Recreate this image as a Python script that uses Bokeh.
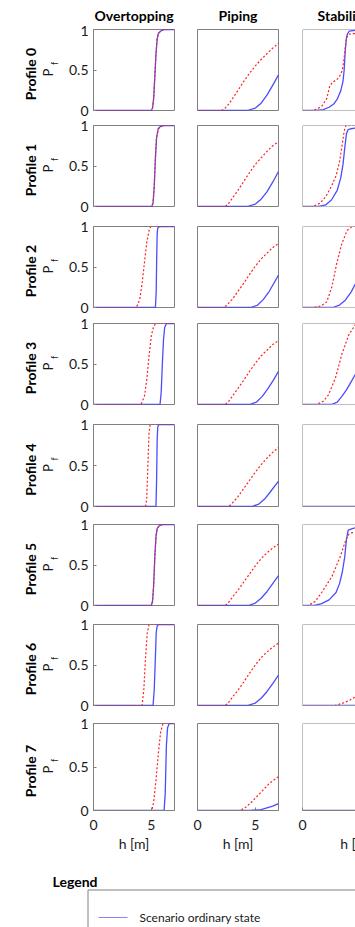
import math
from bokeh.plotting import figure
from bokeh.layouts import column, row
from bokeh.models import Range1d, FixedTicker, Span
from bokeh.core.properties import value
from bokeh.embed import file_html
from bokeh.resources import INLINE

# ---------------- data ----------------
MECHANISMS = ["Overtopping", "Piping", "Stability"]
PROFILES = ["Profile 0", "Profile 1", "Profile 2", "Profile 3",
            "Profile 4", "Profile 5", "Profile 6", "Profile 7"]
SERIES = ["Scenario ordinary state", "Scenario alternative state"]
X_TICKS = [0, 5]
Y_TICKS = [0, 0.5, 1]
Y_TICK_LABELS = ["0", "0.5", "1"]
X_LABEL = "h [m]"
Y_LABEL_MAIN = "P"
Y_LABEL_SUB = "f"
LEGEND_TITLE = "Legend"
X_MAX = 7.0

# (h, Pf) points per profile
overtopping_ordinary = [
    [(0, 0), (5.0, 0), (5.1, 0.03), (5.2, 0.15), (5.3, 0.42), (5.4, 0.7), (5.5, 0.88), (5.6, 0.95), (5.8, 0.98), (6.1, 1.0), (7, 1.0)],
    [(0, 0), (5.05, 0), (5.15, 0.05), (5.25, 0.25), (5.35, 0.6), (5.45, 0.85), (5.6, 0.96), (5.8, 0.99), (6.1, 1.0), (7, 1.0)],
    [(0, 0), (5.35, 0), (5.42, 0.2), (5.46, 0.6), (5.5, 0.9), (5.55, 0.98), (5.7, 1.0), (7, 1.0)],
    [(0, 0), (5.75, 0), (5.85, 0.15), (5.95, 0.5), (6.05, 0.8), (6.15, 0.95), (6.3, 1.0), (7, 1.0)],
    [(0, 0), (5.4, 0), (5.45, 0.3), (5.5, 0.8), (5.55, 0.97), (5.65, 1.0), (7, 1.0)],
    [(0, 0), (5.0, 0), (5.1, 0.05), (5.2, 0.25), (5.3, 0.6), (5.4, 0.85), (5.5, 0.95), (5.7, 0.99), (6.0, 1.0), (7, 1.0)],
    [(0, 0), (5.15, 0), (5.25, 0.2), (5.35, 0.6), (5.42, 0.9), (5.5, 0.98), (5.6, 1.0), (7, 1.0)],
    [(0, 0), (6.1, 0), (6.2, 0.2), (6.3, 0.75), (6.4, 0.95), (6.55, 1.0), (7, 1.0)],
]
overtopping_alternative = [
    [(0, 0), (5.0, 0), (5.1, 0.03), (5.2, 0.15), (5.3, 0.42), (5.4, 0.7), (5.5, 0.88), (5.6, 0.95), (5.8, 0.98), (6.1, 1.0), (7, 1.0)],
    [(0, 0), (5.05, 0), (5.15, 0.05), (5.25, 0.25), (5.35, 0.6), (5.45, 0.85), (5.6, 0.96), (5.8, 0.99), (6.1, 1.0), (7, 1.0)],
    [(0, 0), (3.7, 0), (4.0, 0.1), (4.2, 0.3), (4.4, 0.55), (4.6, 0.8), (4.8, 0.95), (4.95, 1.0), (7, 1.0)],
    [(0, 0), (4.1, 0), (4.4, 0.1), (4.6, 0.3), (4.8, 0.6), (5.0, 0.85), (5.2, 0.97), (5.4, 1.0), (7, 1.0)],
    [(0, 0), (4.5, 0), (4.6, 0.1), (4.7, 0.5), (4.8, 0.9), (4.9, 1.0), (7, 1.0)],
    [(0, 0), (5.0, 0), (5.1, 0.05), (5.2, 0.25), (5.3, 0.6), (5.4, 0.85), (5.5, 0.95), (5.7, 0.99), (6.0, 1.0), (7, 1.0)],
    [(0, 0), (4.2, 0), (4.35, 0.2), (4.5, 0.6), (4.65, 0.9), (4.8, 1.0), (7, 1.0)],
    [(0, 0), (5.05, 0), (5.2, 0.1), (5.4, 0.35), (5.6, 0.65), (5.8, 0.9), (6.0, 1.0), (7, 1.0)],
]
piping_ordinary = [
    [(0, 0), (4.3, 0), (5.0, 0.03), (5.5, 0.09), (6.0, 0.19), (6.5, 0.31), (7, 0.44)],
    [(0, 0), (4.3, 0), (5.0, 0.03), (5.5, 0.09), (6.0, 0.18), (6.5, 0.3), (7, 0.43)],
    [(0, 0), (4.6, 0), (5.2, 0.03), (5.7, 0.1), (6.2, 0.2), (6.6, 0.3), (7, 0.4)],
    [(0, 0), (4.5, 0), (5.1, 0.03), (5.6, 0.1), (6.1, 0.2), (6.6, 0.31), (7, 0.41)],
    [(0, 0), (4.7, 0), (5.3, 0.03), (5.8, 0.09), (6.3, 0.18), (7, 0.31)],
    [(0, 0), (4.4, 0), (5.0, 0.03), (5.5, 0.09), (6.0, 0.17), (6.5, 0.27), (7, 0.37)],
    [(0, 0), (4.3, 0), (5.0, 0.03), (5.5, 0.09), (6.0, 0.17), (6.5, 0.27), (7, 0.375)],
    [(0, 0), (4.5, 0), (5.5, 0.01), (6.0, 0.03), (6.5, 0.05), (7, 0.08)],
]
piping_alternative = [
    [(0, 0), (2.1, 0), (2.4, 0.03), (2.7, 0.08), (3.0, 0.14), (3.5, 0.25), (4.0, 0.36), (4.5, 0.46), (5.0, 0.55), (5.5, 0.63), (6.0, 0.7), (6.5, 0.77), (7, 0.83)],
    [(0, 0), (2.4, 0), (2.7, 0.04), (3.0, 0.1), (3.5, 0.2), (4.0, 0.31), (4.5, 0.42), (5.0, 0.52), (5.5, 0.6), (6.0, 0.68), (6.5, 0.75), (7, 0.8)],
    [(0, 0), (2.3, 0), (2.6, 0.04), (3.0, 0.1), (3.5, 0.2), (4.0, 0.3), (4.5, 0.41), (5.0, 0.51), (5.5, 0.6), (6.0, 0.67), (6.5, 0.74), (7, 0.79)],
    [(0, 0), (2.4, 0), (2.7, 0.04), (3.0, 0.1), (3.5, 0.2), (4.0, 0.3), (4.5, 0.41), (5.0, 0.51), (5.5, 0.6), (6.0, 0.67), (6.5, 0.74), (7, 0.79)],
    [(0, 0), (2.7, 0), (3.0, 0.04), (3.5, 0.12), (4.0, 0.22), (4.5, 0.32), (5.0, 0.42), (5.5, 0.51), (6.0, 0.59), (6.5, 0.66), (7, 0.72)],
    [(0, 0), (2.4, 0), (2.7, 0.04), (3.0, 0.1), (3.5, 0.19), (4.0, 0.29), (4.5, 0.39), (5.0, 0.49), (5.5, 0.58), (6.0, 0.65), (6.5, 0.71), (7, 0.76)],
    [(0, 0), (2.4, 0), (2.7, 0.04), (3.0, 0.1), (3.5, 0.19), (4.0, 0.29), (4.5, 0.4), (5.0, 0.5), (5.5, 0.59), (6.0, 0.66), (6.5, 0.72), (7, 0.77)],
    [(0, 0), (3.7, 0), (4.2, 0.04), (4.7, 0.1), (5.2, 0.17), (5.7, 0.24), (6.2, 0.31), (7, 0.39)],
]
stability_ordinary = [
    [(0, 0), (1.2, 0), (1.8, 0.01), (2.3, 0.04), (2.7, 0.08), (3.0, 0.14), (3.3, 0.24), (3.5, 0.36), (3.6, 0.5), (3.7, 0.75), (3.8, 0.9), (3.9, 0.95), (4.05, 0.98), (4.6, 0.99)],
    [(0, 0), (1.4, 0), (2.0, 0.02), (2.5, 0.08), (3.0, 0.2), (3.3, 0.35), (3.5, 0.52), (3.65, 0.72), (3.8, 0.9), (3.95, 0.95), (4.2, 0.96), (4.6, 0.97)],
    [(0, 0), (2.6, 0), (3.2, 0.03), (3.7, 0.09), (4.2, 0.19), (4.6, 0.3)],
    [(0, 0), (2.5, 0), (3.0, 0.03), (3.4, 0.1), (3.8, 0.18), (4.2, 0.28), (4.6, 0.38)],
    [(0, 0), (4.6, 0)],
    [(0, 0), (1.0, 0), (1.6, 0.02), (2.3, 0.07), (2.9, 0.16), (3.2, 0.27), (3.45, 0.42), (3.65, 0.6), (3.8, 0.82), (3.95, 0.93), (4.3, 0.95), (4.6, 0.96)],
    [(0, 0), (4.6, 0)],
    [(0, 0), (4.6, 0)],
]
stability_alternative = [
    [(0, 0), (0.8, 0), (1.3, 0.02), (1.7, 0.06), (2.1, 0.15), (2.35, 0.3), (2.6, 0.35), (2.95, 0.38), (3.2, 0.42), (3.45, 0.5), (3.6, 0.65), (3.75, 0.85), (3.9, 0.93), (4.2, 0.95), (4.6, 0.95)],
    [(0, 0), (0.9, 0), (1.5, 0.04), (2.0, 0.12), (2.5, 0.25), (2.9, 0.38), (3.2, 0.55), (3.45, 0.78), (3.6, 0.93), (3.75, 1.0), (4.6, 1.0)],
    [(0, 0), (1.0, 0), (1.6, 0.02), (2.1, 0.07), (2.55, 0.26), (2.95, 0.54), (3.4, 0.79), (3.85, 0.95), (4.3, 1.0), (4.6, 1.0)],
    [(0, 0), (1.2, 0), (1.8, 0.04), (2.25, 0.12), (2.85, 0.33), (3.4, 0.62), (4.0, 0.86), (4.6, 0.99)],
    [(0, 0), (4.6, 0)],
    [(0, 0), (0.5, 0), (1.1, 0.05), (1.7, 0.17), (2.55, 0.36), (3.25, 0.6), (3.7, 0.79), (4.0, 0.88), (4.3, 0.9), (4.6, 0.9)],
    [(0, 0), (2.8, 0), (3.5, 0.03), (4.0, 0.06), (4.6, 0.11)],
    [(0, 0), (4.6, 0)],
]

ORDINARY = [overtopping_ordinary, piping_ordinary, stability_ordinary]
ALTERNATIVE = [overtopping_alternative, piping_alternative, stability_alternative]

# ---------------- style / layout ----------------
FONT = "Lato"
FRAME_COLOR = "#808080"
TEXT_COLOR = "#1a1a1a"
BLUE = "#1f1fff"
RED = "#ff2020"

W, H = 355, 927
FRAME_TOPS = [29, 125, 226, 323, 424, 524, 624, 723]
FRAME_BOTS = [110, 206, 307, 404, 506, 605, 705, 810]
HEADER_H = 25
TITLE_Y = 15
ROW_STARTS = [HEADER_H] + [int(round((FRAME_BOTS[i - 1] + FRAME_TOPS[i]) / 2))
                           for i in range(1, len(FRAME_TOPS))]
GRID_END = 860
STRIP_W = 60
FIG_EXTENTS = [(60, 185), (185, 290), (290, 355)]
COL_FRAMES = [(93, 174), (197, 278), (302, 355)]
FULL_FRAME_W = 81


def base_fig(width, height, xr, yr, **kw):
    p = figure(width=width, height=height, x_range=xr, y_range=yr,
               output_backend="svg", toolbar_location=None, title=None,
               **kw)
    p.background_fill_color = "white"
    p.border_fill_color = "white"
    p.grid.visible = False
    return p


def panel(ci, ri):
    top, bot = FRAME_TOPS[ri], FRAME_BOTS[ri]
    y0 = ROW_STARTS[ri]
    y1 = ROW_STARTS[ri + 1] if ri < len(PROFILES) - 1 else GRID_END
    fx0, fx1 = FIG_EXTENTS[ci]
    fl, fr = COL_FRAMES[ci]
    last = ri == len(PROFILES) - 1
    xmax = X_MAX * (fr - fl) / FULL_FRAME_W
    p = base_fig(fx1 - fx0, y1 - y0, Range1d(0, xmax), Range1d(0, 1),
                 x_axis_location="below" if last else None,
                 y_axis_location="left" if ci == 0 else None,
                 min_border_left=fl - fx0, min_border_right=fx1 - fr,
                 min_border_top=top - y0, min_border_bottom=y1 - bot)
    if ci < 2:
        p.outline_line_color = FRAME_COLOR
        p.outline_line_width = 1
    else:
        p.outline_line_color = None
        for loc, dim in [(0, "height"), (0, "width"), (1, "width")]:
            p.add_layout(Span(location=loc, dimension=dim, line_color=FRAME_COLOR, line_width=1))
    axes = []
    if ci == 0:
        ax = p.yaxis[0]
        ax.ticker = FixedTicker(ticks=Y_TICKS)
        ax.major_label_overrides = {t: s for t, s in zip(Y_TICKS, Y_TICK_LABELS)}
        ax.major_label_standoff = 5
        axes.append(ax)
    if last:
        ax = p.xaxis[0]
        ax.ticker = FixedTicker(ticks=X_TICKS)
        ax.major_label_standoff = 9
        ax.axis_label = X_LABEL
        ax.axis_label_standoff = 2
        ax.axis_label_text_font_style = "normal"
        if ci == 2:
            ax.axis_label_align = "end"
        axes.append(ax)
    for ax in axes:
        ax.axis_line_color = FRAME_COLOR
        ax.major_tick_line_color = FRAME_COLOR
        ax.major_tick_in = 3
        ax.major_tick_out = 0
        ax.minor_tick_line_color = None
        ax.major_label_text_font = FONT
        ax.major_label_text_font_size = "14px"
        ax.major_label_text_color = TEXT_COLOR
        ax.axis_label_text_font = FONT
        ax.axis_label_text_font_size = "14px"
        ax.axis_label_text_color = TEXT_COLOR
    alt = ALTERNATIVE[ci][ri]
    ordn = ORDINARY[ci][ri]
    p.line([a for a, b in ordn], [b for a, b in ordn], line_color=BLUE,
           line_width=1.3, line_alpha=0.8)
    p.line([a for a, b in alt], [b for a, b in alt], line_color=RED,
           line_width=1.2, line_dash="2 2")
    return p


rows = []
for ri in range(len(PROFILES)):
    rows.append(row([panel(ci, ri) for ci in range(len(MECHANISMS))], spacing=0))

# left strip with row labels
strip = base_fig(STRIP_W, GRID_END - ROW_STARTS[0], Range1d(0, STRIP_W),
                 Range1d(GRID_END, ROW_STARTS[0]), x_axis_location=None,
                 y_axis_location=None, min_border=0)
strip.outline_line_color = None
centers = [(t + b) / 2 for t, b in zip(FRAME_TOPS, FRAME_BOTS)]
strip.text(x=[30] * len(PROFILES), y=[c + 4 for c in centers], text=PROFILES,
           angle=math.pi / 2, text_font=value(FONT), text_font_style="bold",
           text_font_size="14px", text_align="center", text_baseline="middle",
           text_color="black")
strip.text(x=[47] * len(PROFILES), y=[c + 2.5 for c in centers],
           text=[Y_LABEL_MAIN] * len(PROFILES), angle=math.pi / 2,
           text_font=value(FONT), text_font_size="13px", text_align="center",
           text_baseline="middle", text_color=TEXT_COLOR)
strip.text(x=[53.5] * len(PROFILES), y=[c - 6.5 for c in centers],
           text=[Y_LABEL_SUB] * len(PROFILES), angle=math.pi / 2,
           text_font=value(FONT), text_font_size="9px", text_align="center",
           text_baseline="middle", text_color=TEXT_COLOR)

# header with column titles
header = base_fig(W, HEADER_H, Range1d(0, W), Range1d(HEADER_H, 0),
                  x_axis_location=None, y_axis_location=None, min_border=0)
header.outline_line_color = None
header.text(x=[(a + a + FULL_FRAME_W) / 2 for a, _ in COL_FRAMES],
            y=[TITLE_Y] * len(MECHANISMS), text=MECHANISMS, text_font=value(FONT),
            text_font_style="bold", text_font_size="14px", text_align="center",
            text_baseline="middle", text_color="black")

# legend area
leg = base_fig(W, H - GRID_END, Range1d(0, W), Range1d(H, GRID_END),
               x_axis_location=None, y_axis_location=None, min_border=0)
leg.outline_line_color = None
leg.quad(left=[87.5], right=[W + 60], top=[889.5], bottom=[H + 60],
         fill_color=None, line_color=FRAME_COLOR, line_width=1)
leg.text(x=[52], y=[881], text=[LEGEND_TITLE], text_font=value(FONT),
         text_font_style="bold", text_font_size="14px", text_align="left",
         text_baseline="middle", text_color="black")
leg.line(x=[98, 127], y=[917, 917], line_color=BLUE, line_width=1.2, line_alpha=0.55)
leg.text(x=[139], y=[917], text=[SERIES[0]], text_font=value(FONT),
         text_font_size="12px", text_align="left", text_baseline="middle",
         text_color=TEXT_COLOR)

layout = column([header, row([strip, column(rows, spacing=0)], spacing=0), leg], spacing=0)
open("out.html", "w").write(file_html(layout, INLINE))
